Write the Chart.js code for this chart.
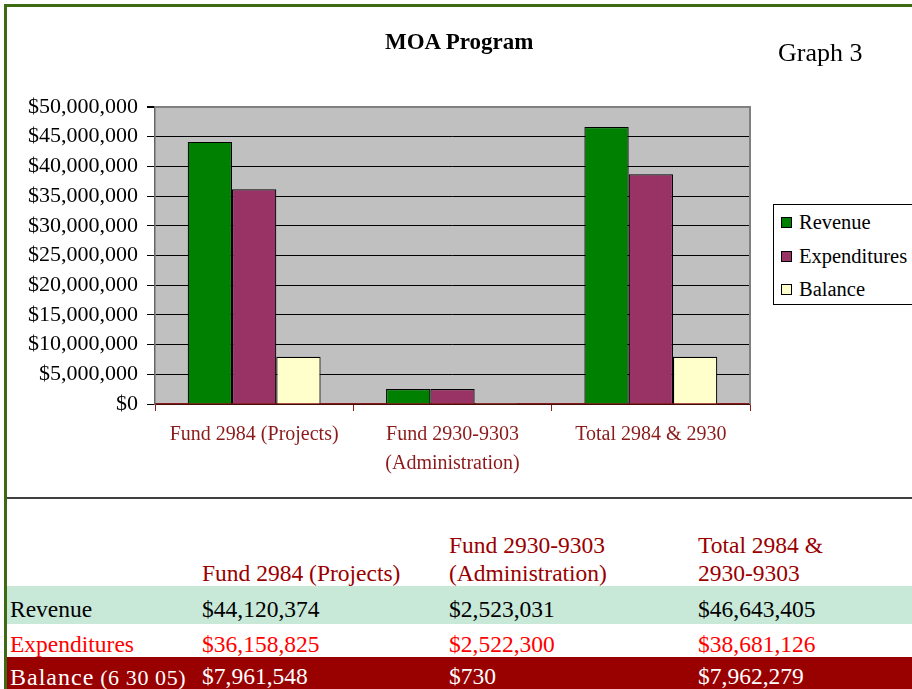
<!DOCTYPE html>
<html>
<head>
<meta charset="utf-8">
<script src="https://cdn.jsdelivr.net/npm/chart.js@4.4.1/dist/chart.umd.min.js"></script>
<style>
html,body{margin:0;padding:0;background:#fff;}
body{width:912px;height:689px;overflow:hidden;position:relative;font-family:"Liberation Serif","Times New Roman",serif;}
.abs{position:absolute;white-space:nowrap;line-height:1;}
#frameTop{position:absolute;left:4px;top:4px;width:908px;height:3px;background:#3d6b14;}
#frameLeft{position:absolute;left:4px;top:4px;width:3px;height:685px;background:#3d6b14;z-index:5;}
#chartWrap{position:absolute;left:0;top:0;width:912px;height:495px;}
#title{left:385px;top:29.5px;font-size:23px;font-weight:bold;color:#000;}
#graphNo{left:778px;top:39.5px;font-size:26px;color:#000;}
#legendBox{position:absolute;left:773px;top:204px;width:150px;height:99px;border:1px solid #000;background:#fff;}
.legItem{position:absolute;left:781px;font-size:20.5px;line-height:1;color:#000;white-space:nowrap;}
.legSwatch{position:absolute;left:0;width:9px;height:9px;border:1px solid #000;}
.legText{position:absolute;left:18px;top:0;}
#sep{position:absolute;left:5px;top:497px;width:907px;height:2px;background:#404040;}
#bandRev{position:absolute;left:7px;top:586px;width:905px;height:38px;background:#c8e8d8;}
#bandBal{position:absolute;left:4px;top:657px;width:908px;height:32px;background:#990000;}
.tcell{position:absolute;white-space:nowrap;line-height:1;font-size:23.5px;}
</style>
</head>
<body>
<div id="frameTop"></div>
<div id="frameLeft"></div>
<div id="chartWrap"><canvas id="c" width="912" height="495"></canvas></div>
<div id="title" class="abs">MOA Program</div>
<div id="graphNo" class="abs">Graph 3</div>
<div id="legendBox"></div>
<div id="sep"></div>
<div id="bandRev"></div>
<div id="bandBal"></div>
<div id="table"></div>
<script>
// ---- data ----
const categories = ["Fund 2984 (Projects)", ["Fund 2930-9303", "(Administration)"], "Total 2984 & 2930"];
const seriesNames = ["Revenue", "Expenditures", "Balance"];
const revenue = [44120374, 2523031, 46643405];
const expenditures = [36158825, 2522300, 38681126];
const balance = [7961548, 730, 7962279];
const yMin = 0;
const yMax = 50000000;
const yStep = 5000000;
const tableHeaders = [["Fund 2984 (Projects)"], ["Fund 2930-9303", "(Administration)"], ["Total 2984 &", "2930-9303"]];
const rowLabels = ["Revenue", "Expenditures", "Balance"];
const rowLabelNote = "(6 30 05)";

const seriesColors = ["#008000", "#993366", "#ffffcc"];
const money = v => "$" + v.toLocaleString("en-US");

// ---- chart ----
const plotDecor = {
  id: "plotDecor",
  beforeDraw(chart) {
    const {ctx, chartArea: a} = chart;
    ctx.save();
    ctx.fillStyle = "#c0c0c0";
    ctx.fillRect(a.left, a.top, a.right - a.left, a.bottom - a.top);
    ctx.restore();
  },
  afterDraw(chart) {
    const {ctx, chartArea: a} = chart;
    ctx.save();
    ctx.strokeStyle = "#808080";
    ctx.lineWidth = 2;
    ctx.beginPath();
    ctx.moveTo(a.right, a.top - 1);
    ctx.lineTo(a.right, a.bottom);
    ctx.stroke();
    ctx.restore();
  }
};

const seriesData = [revenue, expenditures, balance];
const chart = new Chart(document.getElementById("c"), {
  type: "bar",
  data: {
    labels: categories,
    datasets: seriesNames.map((n, i) => ({
      label: n,
      data: seriesData[i],
      backgroundColor: seriesColors[i],
      borderColor: "#000",
      borderWidth: 1.2,
      categoryPercentage: 0.67,
      barPercentage: 1.0
    }))
  },
  options: {
    responsive: false,
    animation: false,
    layout: {padding: {top: 107, right: 162, bottom: 0, left: 0}},
    plugins: {legend: {display: false}, title: {display: false}, tooltip: {enabled: false}},
    scales: {
      x: {
        afterFit(s) { s.height = 91; },
        grid: {display: true, drawOnChartArea: false, drawTicks: true, tickLength: 7, color: "#8b1a1a", tickColor: "#8b1a1a", offset: true},
        border: {display: true, color: "#8b1a1a", width: 1.5},
        ticks: {color: "#8b1a1a", font: {family: "Liberation Serif", size: 20, lineHeight: 1.42}, padding: 10, maxRotation: 0, autoSkip: false}
      },
      y: {
        min: yMin, max: yMax,
        afterFit(s) { s.width = 155; },
        grid: {
          color: c => (c.tick && c.tick.value === yMax) ? "#808080" : "#000",
          lineWidth: c => (c.tick && c.tick.value === yMax) ? 2 : 1,
          tickColor: "#000", tickLength: 8
        },
        border: {display: true, color: "#666", width: 1.5},
        ticks: {stepSize: yStep, color: "#000", padding: 9, font: {family: "Liberation Serif", size: 22}, callback: v => money(v)}
      }
    }
  },
  plugins: [plotDecor]
});

// ---- legend (from datasets) ----
const legendCenters = [222.7, 256.2, 289.5];
chart.data.datasets.forEach((ds, i) => {
  const item = document.createElement("div");
  item.className = "legItem";
  item.style.top = (legendCenters[i] - 10.25) + "px";
  item.style.height = "21px";
  item.innerHTML = '<div class="legSwatch" style="top:5px;background:' + ds.backgroundColor + '"></div><div class="legText">' + ds.label + '</div>';
  document.body.appendChild(item);
});

// ---- table ----
const colX = [10, 202, 449, 698];
const headerTop = [534, 562];
const rowTops = [598, 633, 665];
const rowColors = ["#000", "#ff0000", "#ffffff"];
function cell(text, x, y, color, extra) {
  const d = document.createElement("div");
  d.className = "tcell";
  d.style.left = x + "px";
  d.style.top = y + "px";
  d.style.color = color;
  if (extra) d.innerHTML = extra; else d.textContent = text;
  document.body.appendChild(d);
}
tableHeaders.forEach((lines, i) => {
  const startLine = 2 - lines.length;
  lines.forEach((t, j) => cell(t, colX[i + 1], headerTop[startLine + j], "#990000"));
});
rowLabels.forEach((lab, r) => {
  if (r === 2) {
    cell(null, colX[0], rowTops[r] - 0.5, rowColors[r],
      '<span style="font-size:24px;letter-spacing:1px">' + lab + '</span> <span style="font-size:22px;letter-spacing:0.6px">' + rowLabelNote + '</span>');
  } else {
    cell(lab, colX[0], rowTops[r], rowColors[r]);
  }
  seriesData[r].forEach((v, i) => cell(money(v), colX[i + 1], rowTops[r], rowColors[r]));
});
</script>
</body>
</html>
